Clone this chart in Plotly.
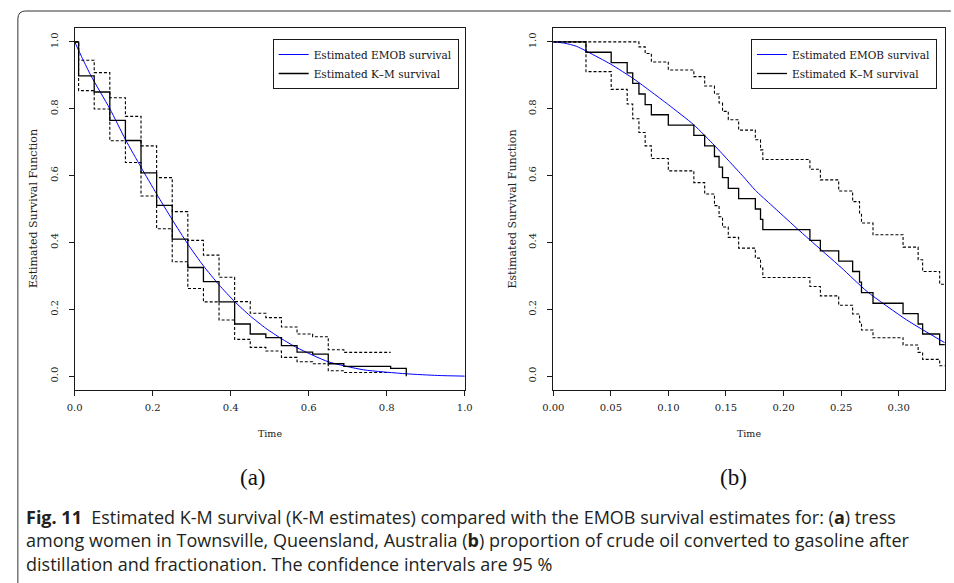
import plotly.graph_objects as go

# ---------------- panel (a): stress among women, Townsville ----------------
km_a_time = [0.0, 0.01, 0.05, 0.09, 0.13, 0.17, 0.21, 0.25, 0.29, 0.33, 0.37,
             0.41, 0.45, 0.49, 0.53, 0.57, 0.61, 0.65, 0.69, 0.81, 0.85]
km_a_surv = [1.0, 0.898, 0.850, 0.765, 0.705, 0.608, 0.511, 0.410, 0.325, 0.283, 0.222,
             0.156, 0.126, 0.115, 0.091, 0.072, 0.066, 0.037, 0.029, 0.023, 0.0]

ci_a_time = [0.0, 0.01, 0.05, 0.09, 0.13, 0.17, 0.21, 0.25, 0.29, 0.33, 0.37,
             0.41, 0.45, 0.49, 0.53, 0.57, 0.61, 0.65, 0.69, 0.81]
ci_a_upper = [1.0, 0.945, 0.908, 0.833, 0.777, 0.689, 0.594, 0.492, 0.406, 0.362, 0.296,
              0.223, 0.188, 0.175, 0.147, 0.126, 0.118, 0.079, 0.071, 0.071]
ci_a_lower = [1.0, 0.854, 0.799, 0.704, 0.639, 0.539, 0.441, 0.342, 0.262, 0.222, 0.168,
              0.110, 0.086, 0.075, 0.056, 0.043, 0.037, 0.016, 0.011, 0.011]

emob_a_time = [0.0, 0.02, 0.042, 0.09, 0.13, 0.17, 0.21, 0.25, 0.29, 0.33, 0.37,
               0.41, 0.45, 0.49, 0.53, 0.57, 0.65, 0.74, 0.85, 0.93, 1.0]
emob_a_surv = [1.0, 0.950, 0.898, 0.800, 0.708, 0.625, 0.545, 0.468, 0.395, 0.330, 0.273,
               0.223, 0.180, 0.143, 0.112, 0.085, 0.043, 0.019, 0.007, 0.002, 0.0]

# ---------------- panel (b): crude oil converted to gasoline ----------------
km_b_time = [0.0, 0.0284, 0.0503, 0.0642, 0.069, 0.0744, 0.0798, 0.0852, 0.0999, 0.1221,
             0.1315, 0.140, 0.144, 0.147, 0.152, 0.161, 0.1755, 0.180, 0.182, 0.2229,
             0.232, 0.2479, 0.260, 0.266, 0.2677, 0.2777, 0.3038, 0.3169, 0.3208, 0.3356,
             0.345]
km_b_surv = [1.0, 0.969, 0.938, 0.907, 0.876, 0.844, 0.812, 0.782, 0.751, 0.720,
             0.689, 0.657, 0.625, 0.594, 0.562, 0.531, 0.500, 0.469, 0.438, 0.406,
             0.375, 0.344, 0.313, 0.281, 0.250, 0.218, 0.187, 0.156, 0.126, 0.094,
             0.094]
ci_b_upper = [1.0, 1.0, 1.0, 1.0, 1.0, 0.985, 0.965, 0.940, 0.916, 0.896,
              0.868, 0.844, 0.817, 0.792, 0.767, 0.736, 0.707, 0.677, 0.648, 0.619,
              0.587, 0.554, 0.522, 0.488, 0.458, 0.423, 0.386, 0.348, 0.313, 0.275,
              0.275]
ci_b_lower = [1.0, 0.911, 0.858, 0.814, 0.770, 0.729, 0.689, 0.651, 0.614, 0.579,
              0.545, 0.510, 0.477, 0.446, 0.415, 0.383, 0.353, 0.323, 0.295, 0.268,
              0.240, 0.212, 0.186, 0.161, 0.138, 0.115, 0.093, 0.071, 0.050, 0.031,
              0.031]

emob_b_time = [0.0, 0.01, 0.02, 0.03, 0.05, 0.07, 0.085, 0.10, 0.122, 0.14, 0.153,
               0.165, 0.1755, 0.19, 0.21, 0.223, 0.25, 0.2726, 0.307, 0.34]
emob_b_surv = [1.0, 0.996, 0.987, 0.970, 0.933, 0.889, 0.851, 0.812, 0.752, 0.690, 0.642,
               0.597, 0.556, 0.510, 0.447, 0.407, 0.325, 0.253, 0.168, 0.100]

x_ticks_a = [0.0, 0.2, 0.4, 0.6, 0.8, 1.0]
x_ticks_b = [0.00, 0.05, 0.10, 0.15, 0.20, 0.25, 0.30]
y_ticks = [0.0, 0.2, 0.4, 0.6, 0.8, 1.0]

legend_names = ["Estimated EMOB survival", "Estimated K\u2013M survival"]

W, H = 954, 583
SERIF = "DejaVu Serif"
BLUE = "#0000ff"
INK = "#1a1a1a"


def px(x):
    return x / W


def py(y):
    return 1 - y / H


fig = go.Figure()


def add_panel(xa, ya, leg, t_km, s_km, t_ci, up, lo, t_em, s_em):
    common = dict(xaxis=xa, yaxis=ya, mode="lines", hoverinfo="skip")
    for band in (up, lo):
        fig.add_trace(go.Scatter(x=t_ci, y=band, line=dict(color="black", width=1.1,
                                                           dash="3px,2px", shape="hv"),
                                 showlegend=False, **common))
    fig.add_trace(go.Scatter(x=t_em, y=s_em, name=legend_names[0], legend=leg,
                             line=dict(color=BLUE, width=1, shape="spline", smoothing=0.6),
                             **common))
    fig.add_trace(go.Scatter(x=t_km, y=s_km, name=legend_names[1], legend=leg,
                             line=dict(color="black", width=1.3, shape="hv"), **common))


add_panel("x", "y", "legend", km_a_time, km_a_surv, ci_a_time, ci_a_upper, ci_a_lower,
          emob_a_time, emob_a_surv)
add_panel("x2", "y2", "legend2", km_b_time, km_b_surv, km_b_time, ci_b_upper, ci_b_lower,
          emob_b_time, emob_b_surv)

y_top, y_bot = 28, 390
ydom = [py(y_bot), py(y_top)]
yrange = [-0.0415, 1.0415]

axis_common = dict(showline=True, mirror=True, linecolor=INK, linewidth=1.2,
                   ticks="outside", ticklen=5, tickwidth=1, tickcolor=INK,
                   showgrid=False, zeroline=False,
                   tickfont=dict(family=SERIF, size=10, color="#222"))
xaxis_common = dict(ticklabelstandoff=3, **axis_common)
yaxis_common = dict(ticklabelstandoff=7, tickangle=-90, range=yrange, domain=ydom,
                    tickvals=y_ticks, ticktext=[f"{v:.1f}" for v in y_ticks], **axis_common)

legend_style = dict(yanchor="top", xanchor="left", bordercolor=INK, borderwidth=1,
                    bgcolor="white", font=dict(family=SERIF, size=10.5, color="#111"),
                    tracegroupgap=0, itemwidth=30)

fig.update_layout(
    width=W, height=H,
    margin=dict(l=0, r=0, t=0, b=0),
    paper_bgcolor="white", plot_bgcolor="white",
    xaxis=dict(domain=[px(65), px(463)], range=[0, 1], tickvals=x_ticks_a,
               ticktext=[f"{v:.1f}" for v in x_ticks_a], anchor="y", **xaxis_common),
    yaxis=dict(anchor="x", **yaxis_common),
    xaxis2=dict(domain=[px(553.3), px(952.7)], range=[0, 0.34], tickvals=x_ticks_b,
                ticktext=[f"{v:.2f}" for v in x_ticks_b], anchor="y2", **xaxis_common),
    yaxis2=dict(anchor="x2", **yaxis_common),
    legend=dict(x=px(267), y=py(39), **legend_style),
    legend2=dict(x=px(755), y=py(39), **legend_style),
    showlegend=True,
)

# axis titles, panel labels
ann = []
for cx in (65 - 41.5, 553.3 - 41.5):
    ann.append(dict(x=px(cx), y=py(209), text="Estimated Survival Function", textangle=-90,
                    font=dict(family=SERIF, size=11, color="#222")))
for cx in ((65 + 463) / 2, (553.3 + 952.7) / 2):
    ann.append(dict(x=px(cx), y=py(433), text="Time",
                    font=dict(family=SERIF, size=9.5, color="#222")))
for cx, lab in ((247, "(a)"), (737, "(b)")):
    ann.append(dict(x=px(cx), y=py(477), text=lab,
                    font=dict(family="Liberation Serif", size=23, color="#111")))

caption = [
    "<b>Fig. 11</b>  Estimated K-M survival (K-M estimates) compared with the EMOB survival "
    "estimates for: (<b>a</b>) tress",
    "among women in Townsville, Queensland, Australia (<b>b</b>) proportion of crude oil "
    "converted to gasoline after",
    "distillation and fractionation. The confidence intervals are 95 %",
]
ann.append(dict(x=px(13), y=py(540.5), text="<br>".join(caption), xanchor="left",
                align="left", font=dict(family="Open Sans", size=18, color="#231f20")))

for a in ann:
    a.update(xref="paper", yref="paper", showarrow=False,
             xanchor=a.get("xanchor", "center"), yanchor="middle")
fig.update_layout(annotations=ann)

# rounded frame around the figure (top and left edges)
frame = (f"M {px(7)},{py(H + 5)} L {px(7)},{py(19)} "
         f"Q {px(7)},{py(11)} {px(15)},{py(11)} L {px(W + 5)},{py(11)}")
fig.add_shape(type="path", path=frame, xref="paper", yref="paper",
              line=dict(color="#333", width=1))

fig.write_html("out.html")
